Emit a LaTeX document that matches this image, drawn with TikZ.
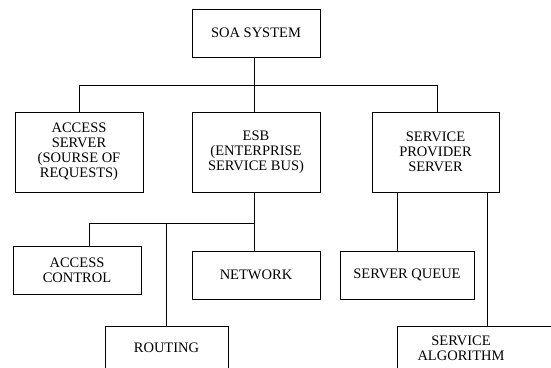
\documentclass[tikz,border=0pt]{standalone}
\usepackage{fontspec}
\setmainfont{Liberation Serif}
\begin{document}
\begin{tikzpicture}[x=1pt,y=-1pt,
  box/.style={draw, line width=0.9pt, rectangle, inner sep=0pt, align=center,
    font=\fontsize{14.5}{15}\selectfont},
  link/.style={line width=0.7pt}]
\useasboundingbox (0,0) rectangle (551,367);
\clip (0,0) rectangle (551,367);

% boxes
\node[box, minimum width=128, minimum height=48] (soa) at (256,33) {SOA SYSTEM};
\node[box, minimum width=128, minimum height=80] (as) at (79,152) {ACCESS\\SERVER\\(SOURSE OF\\REQUESTS)};
\node[box, minimum width=128, minimum height=80] (esb) at (256,152) {ESB\\(ENTERPRISE\\SERVICE BUS)};
\node[box, minimum width=127, minimum height=80] (ssp) at (435.5,152) {SERVICE\\PROVIDER\\SERVER};
\node[box, minimum width=128, minimum height=48] (ac) at (77,270) {ACCESS\\CONTROL};
\node[box, minimum width=128, minimum height=48] (net) at (256,275) {NETWORK};
\node[box, minimum width=134, minimum height=48] (sq) at (407,275) {SERVER QUEUE};
\node[box, minimum width=123, minimum height=44] (rt) at (166.5,348) {ROUTING};
\node[box, minimum width=170, minimum height=44,
  label={[xshift=-21pt, align=center, font=\fontsize{14.5}{15}\selectfont]center:SERVICE\\ALGORITHM}]
  (sa) at (482,348) {};

% junction points
\coordinate (top) at (254,85);
\coordinate (busL) at (79.5,85);
\coordinate (busR) at (437.5,85);
\coordinate (esbj) at (254,223);
\coordinate (acj) at (89,223);
\coordinate (rtj) at (166,223);

% connectors
\draw[link] (soa.south -| top) -- (top);
\draw[link] (busL) -- (busR);
\draw[link] (busL) -- (as.north -| busL);
\draw[link] (top) -- (esb.north -| top);
\draw[link] (busR) -- (ssp.north -| busR);

\draw[link] (esb.south -| esbj) -- (esbj) -- (acj) -- (ac.north -| acj);
\draw[link] (rtj) -- (rt.north -| rtj);
\draw[link] (esbj) -- (net.north -| esbj);

\draw[link] (ssp.south -| 397,0) -- (sq.north -| 397,0);
\draw[link] (ssp.south -| 487,0) -- (sa.north -| 487,0);
\end{tikzpicture}
\end{document}
